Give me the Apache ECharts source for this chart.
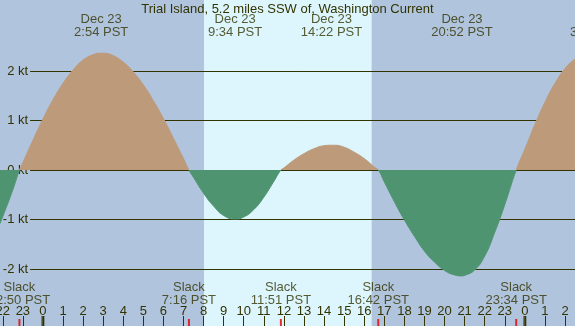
<!DOCTYPE html>
<html>
<head>
<meta charset="utf-8">
<script src="https://cdn.jsdelivr.net/npm/echarts@6/dist/echarts.min.js"></script>
<style>
  html, body { margin: 0; padding: 0; }
  #chart { width: 575px; height: 326px; }
</style>
</head>
<body>
<div id="chart"></div>
<script>
// hours since midnight Dec 23 (PST), current speed in knots
var hours = [-2.5, -2.14, -2, -1.5, -1.17, -1, -0.5, 0, 0.5, 1, 1.5, 2, 2.5, 2.9, 3, 3.5, 4, 4.5, 5, 5.5, 6, 6.5, 7, 7.27,
  7.5, 8, 8.5, 9, 9.57, 10, 10.5, 11, 11.5, 11.85, 12, 12.5, 13, 13.5, 14, 14.37, 14.5, 15, 15.5, 16, 16.5, 16.7,
  17, 17.5, 18, 18.5, 19, 19.5, 20, 20.5, 20.87, 21, 21.5, 22, 22.5, 23, 23.57, 24, 24.5, 25, 25.5, 26, 26.5, 27]
var knots = [-1.45, -1.08, -0.94, -0.40, 0, 0.15, 0.60, 1.03, 1.42, 1.75, 2.02, 2.22, 2.33, 2.36, 2.36, 2.31, 2.18, 1.98, 1.72, 1.40, 1.04, 0.64, 0.23, 0,
  -0.15, -0.47, -0.73, -0.92, -0.99, -0.95, -0.80, -0.55, -0.23, 0, 0.04, 0.20, 0.33, 0.43, 0.49, 0.50, 0.50, 0.46, 0.36, 0.23, 0.06, 0,
  -0.24, -0.64, -1.01, -1.34, -1.64, -1.86, -2.03, -2.12, -2.14, -2.13, -2.02, -1.74, -1.26, -0.70, 0, 0.42, 0.92, 1.37, 1.75, 2.05, 2.24, 2.35]

var peakHours = [2.9, 9.57, 14.37, 20.87, 27.6]
var peakDates = ['Dec 23', 'Dec 23', 'Dec 23', 'Dec 23', 'Dec 24']
var peakTimes = ['2:54 PST', '9:34 PST', '14:22 PST', '20:52 PST', '3:36 PST']

var slackHours = [-1.17, 7.27, 11.85, 16.7, 23.57]
var slackTimes = ['22:50 PST', '7:16 PST', '11:51 PST', '16:42 PST', '23:34 PST']

var midnights = [0, 24]
var sunrise = 8.02
var sunset = 16.37
var ktLevels = [-2, -1, 0, 1, 2]

var textColor = '#333300'
var font = 'Liberation Sans'
var yMin = -3.152
var yMax = 3.434
var topLabelY = 2.92
var bottomLabelY = -2.5
var levelStart = -0.64

var chart = echarts.init(document.getElementById('chart'))

chart.setOption({
  animation: false,
  backgroundColor: '#B0C4DE',
  title: {
    text: 'Trial Island, 5.2 miles SSW of, Washington Current',
    left: 'center',
    top: -2,
    textStyle: { fontFamily: font, fontSize: 13, fontWeight: 'normal', color: textColor },
  },
  grid: { left: -17.3, right: -10.1, top: 0, bottom: 0, outerBoundsMode: 'none', containLabel: false },
  xAxis: {
    type: 'value',
    min: -3,
    max: 27,
    interval: 1,
    z: 10,
    axisLine: { show: false, onZero: false },
    splitLine: { show: false },
    axisTick: { inside: true, length: 10, lineStyle: { color: textColor } },
    axisLabel: {
      inside: true,
      margin: 8,
      color: textColor,
      fontFamily: font,
      fontSize: 13,
      formatter: function (v) {
        return String(((v % 24) + 24) % 24)
      },
    },
  },
  yAxis: { type: 'value', min: yMin, max: yMax, show: false },
  visualMap: {
    show: false,
    type: 'piecewise',
    dimension: 1,
    seriesIndex: 0,
    pieces: [
      { gte: -5, lt: 0, color: '#4F9470' },
      { gte: 0, lte: 5, color: '#BC9A7A' },
    ],
  },
  series: [
    {
      type: 'line',
      z: 2,
      data: hours.map(function (h, i) { return [h, knots[i]] }),
      smooth: 0.5,
      symbol: 'none',
      lineStyle: { width: 1 },
      areaStyle: { opacity: 1 },
      markArea: {
        silent: true,
        z: 0,
        itemStyle: { color: '#DDF6FE' },
        data: [[{ xAxis: sunrise }, { xAxis: sunset }]],
      },
      markLine: {
        silent: true,
        z: 1,
        symbol: ['none', 'none'],
        lineStyle: { color: textColor, width: 1, type: 'solid' },
        label: {
          position: 'start',
          distance: 2,
          formatter: '{b}',
          color: textColor,
          fontFamily: font,
          fontSize: 13,
        },
        data: ktLevels.map(function (v) {
          return [{ name: v + ' kt', coord: [levelStart, v] }, { coord: [27, v] }]
        }),
      },
    },
    {
      type: 'scatter',
      z: 3,
      clip: false,
      silent: true,
      symbolSize: 1,
      itemStyle: { color: 'rgba(0,0,0,0)' },
      label: {
        show: true,
        position: 'inside',
        color: textColor,
        fontFamily: font,
        fontSize: 13,
        lineHeight: 13,
      },
      data: peakHours.map(function (t, i) {
        return { value: [t, topLabelY], label: { formatter: peakDates[i] + '\n' + peakTimes[i] } }
      }).concat(slackHours.map(function (t, i) {
        return { value: [t, bottomLabelY], label: { formatter: 'Slack\n' + slackTimes[i] } }
      })),
    },
    {
      type: 'scatter',
      z: 4,
      silent: true,
      symbol: 'rect',
      symbolSize: [2, 14],
      itemStyle: { color: '#E00000' },
      data: slackHours.map(function (t) { return [t, yMin] }),
    },
    {
      type: 'scatter',
      z: 4,
      silent: true,
      symbol: 'rect',
      symbolSize: [3, 20],
      itemStyle: { color: '#333300' },
      data: midnights.map(function (t) { return [t, yMin] }),
    },
  ],
})
</script>
</body>
</html>
